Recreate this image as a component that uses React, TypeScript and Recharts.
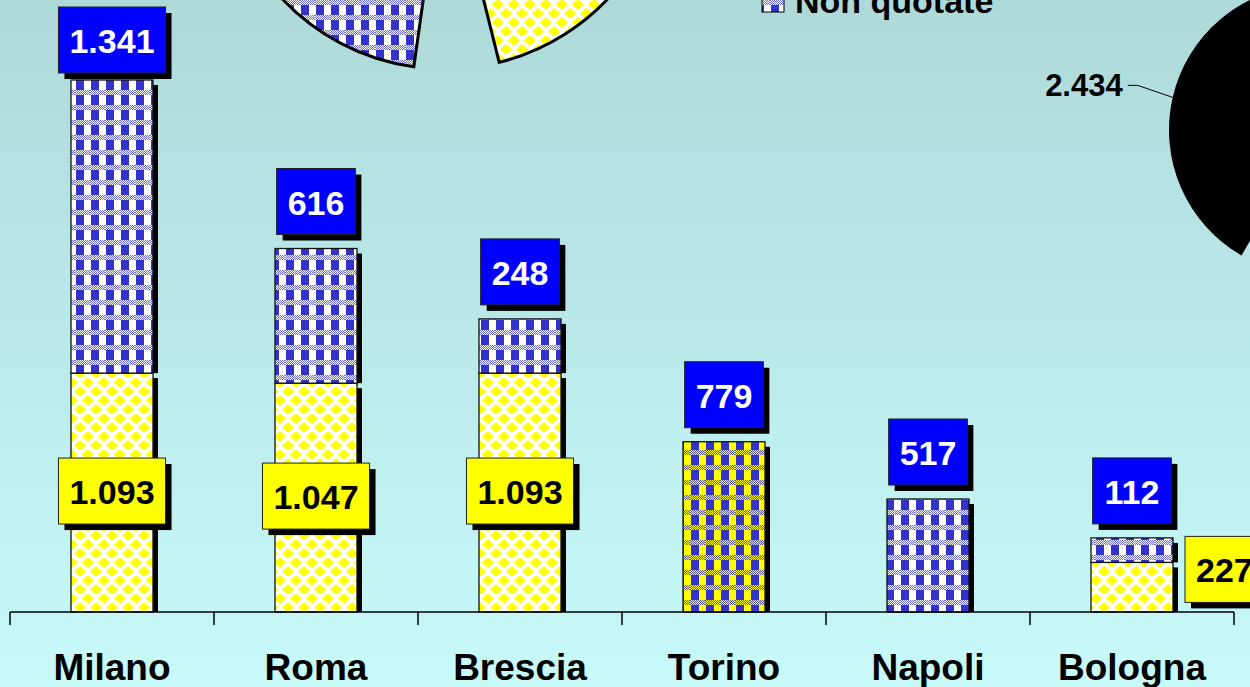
import React from 'react';
import { BarChart, Bar, XAxis, YAxis, Cell, LabelList, PieChart, Pie } from 'recharts';

// bar chart data
const cities = ['Milano', 'Roma', 'Brescia', 'Torino', 'Napoli', 'Bologna'];
const quotate = [1093, 1047, 1093, 0, 0, 227];
const nonQuotate = [1341, 616, 248, 779, 517, 112];
const mixedCity = 'Torino';

// pies (only partly visible in the picture)
const topPieNames = ['Non quotate', 'Quotate'];
const topPieValues = [82, 76];
const sidePieNames = ['Milano'];
const sidePieValues = [2434];

const FONT = "'Liberation Sans', Arial, Helvetica, sans-serif";

const data = cities.map((city, i) => ({ city, quotate: quotate[i], nonQuotate: nonQuotate[i] }));
const topPie = topPieNames.map((name, i) => ({ name, value: topPieValues[i] }));
const sidePie = sidePieNames.map((name, i) => ({ name, value: sidePieValues[i] }));

const fmt = (n: number) =>
  n >= 1000 ? `${Math.floor(n / 1000)}.${String(n % 1000).padStart(3, '0')}` : String(n);

const textW = (s: string, size: number) =>
  [...s].reduce((w, ch) => w + (ch === '.' ? 0.278 : 0.556), 0) * size;

const ValueBox = ({ cx, cy, text, bg, color }: any) => {
  const w = textW(text, 34) + 22;
  const h = 66;
  const x = cx - w / 2;
  const y = cy - h / 2;
  return (
    <g>
      <rect x={x + 6} y={y + 6} width={w} height={h} fill="#000" />
      <rect x={x} y={y} width={w} height={h} fill={bg} stroke="#222" strokeWidth={1} />
      <text x={cx} y={y + 46} textAnchor="middle" fill={color} fontSize={34} fontWeight="bold" fontFamily={FONT}>
        {text}
      </text>
    </g>
  );
};

const ShadowBar = (props: any) => {
  const { x, y, width, height, fill } = props;
  if (!height || height <= 0) return null;
  return (
    <g>
      <rect x={x + width} y={y + 5} width={5} height={Math.max(0, height - 5)} fill="#000" />
      <rect x={x} y={y} width={width} height={height} fill={fill} stroke="#111" strokeWidth={1.3} />
    </g>
  );
};

const blueLabel = (props: any) => {
  const vb = props.viewBox || props;
  const { x, y, width } = vb;
  const v = Number(props.value);
  if (!v) return null;
  const cy = Math.max(40, y - 14 - 33);
  return <ValueBox cx={x + width / 2} cy={cy} text={fmt(v)} bg="#0000ff" color="#fff" />;
};

const yellowLabel = (props: any) => {
  const vb = props.viewBox || props;
  const { x, y, width, height } = vb;
  const v = Number(props.value);
  if (!v) return null;
  const text = fmt(v);
  if (props.index === cities.length - 1) {
    const w = textW(text, 34) + 22;
    return <ValueBox cx={x + width + 12 + w / 2} cy={y + 7} text={text} bg="#ffff00" color="#000" />;
  }
  return <ValueBox cx={x + width / 2} cy={y + height / 2 - 1.5} text={text} bg="#ffff00" color="#000" />;
};

const CityTick = (props: any) => {
  const { x, y, payload, index } = props;
  const half = typeof payload.offset === 'number' && payload.offset > 0 ? payload.offset : 102;
  return (
    <g>
      <line x1={x - half} y1={y} x2={x - half} y2={y + 13} stroke="#000" strokeWidth={1.5} />
      {index === cities.length - 1 && (
        <line x1={x + half} y1={y} x2={x + half} y2={y + 13} stroke="#000" strokeWidth={1.5} />
      )}
      <text x={x} y={y + 68} textAnchor="middle" fill="#000" fontSize={37} fontWeight="bold" fontFamily={FONT}>
        {payload.value}
      </text>
    </g>
  );
};

const sideLabel = (props: any) => {
  const { cx, cy, midAngle, outerRadius, value } = props;
  const rad = (Math.PI / 180) * midAngle;
  const sx = cx + outerRadius * Math.cos(rad);
  const sy = cy - outerRadius * Math.sin(rad);
  const ex = sx - 35;
  const ey = sy - 12;
  return (
    <g>
      <polyline points={`${sx},${sy} ${ex},${ey} ${ex - 10},${ey}`} fill="none" stroke="#000" strokeWidth={1} />
      <text x={ex - 15} y={ey + 11} textAnchor="end" fill="#000" fontSize={31} fontWeight="bold" fontFamily={FONT}>
        {fmt(value)}
      </text>
    </g>
  );
};

const Patterns = () => (
  <defs>
    <pattern id="ditherBlue" width="2" height="2" patternUnits="userSpaceOnUse">
      <rect width="2" height="2" fill="#ffffff" />
      <rect width="1" height="1" fill="#6a6ae0" />
      <rect x="1" y="1" width="1" height="1" fill="#6a6ae0" />
    </pattern>
    <pattern id="ditherOlive" width="2" height="2" patternUnits="userSpaceOnUse">
      <rect width="2" height="2" fill="#ffff00" />
      <rect width="1" height="1" fill="#5a5a8a" />
      <rect x="1" y="1" width="1" height="1" fill="#5a5a8a" />
    </pattern>
    <pattern id="patQuotate" width="16" height="18" patternUnits="userSpaceOnUse">
      <rect width="16" height="18" fill="#ffffff" />
      <polygon points="8,-1 14,4.5 8,10 2,4.5" fill="#ffff00" />
      <polygon points="0,8 6,13.5 0,19 -6,13.5" fill="#ffff00" />
      <polygon points="16,8 22,13.5 16,19 10,13.5" fill="#ffff00" />
    </pattern>
    <pattern id="patNon" width="15" height="15" patternUnits="userSpaceOnUse">
      <rect width="15" height="15" fill="#ffffff" />
      <rect x="0" y="0" width="15" height="5" fill="url(#ditherBlue)" />
      <rect x="1" y="5" width="8" height="10" fill="#3333cc" />
    </pattern>
    <pattern id="patMix" width="15" height="15" patternUnits="userSpaceOnUse">
      <rect width="15" height="15" fill="#ffff00" />
      <rect x="0" y="0" width="15" height="5" fill="url(#ditherOlive)" />
      <rect x="1" y="5" width="8" height="10" fill="#3333cc" />
    </pattern>
  </defs>
);

export default function App() {
  return (
    <div
      style={{
        position: 'absolute',
        left: 0,
        top: 0,
        width: 1250,
        height: 687,
        overflow: 'hidden',
        background: 'linear-gradient(180deg, #aed9d9 0%, #c8fafa 100%)',
      }}
    >
      <div style={{ position: 'absolute', left: 0, top: 0 }}>
        <BarChart width={1250} height={687} data={data} margin={{ top: 0, right: 16, left: 10, bottom: 0 }} barSize={82}>
          <Patterns />
          <YAxis hide domain={[0, 2800]} />
          <XAxis
            dataKey="city"
            height={75}
            tickSize={0}
            tickMargin={0}
            interval={0}
            axisLine={{ stroke: '#000', strokeWidth: 1.5 }}
            tickLine={false}
            tick={<CityTick />}
          />
          <Bar dataKey="quotate" stackId="a" fill="url(#patQuotate)" shape={ShadowBar} isAnimationActive={false}>
            <LabelList dataKey="quotate" content={yellowLabel} />
          </Bar>
          <Bar dataKey="nonQuotate" stackId="a" fill="url(#patNon)" shape={ShadowBar} isAnimationActive={false}>
            {data.map((d) => (
              <Cell key={d.city} fill={d.city === mixedCity ? 'url(#patMix)' : 'url(#patNon)'} />
            ))}
            <LabelList dataKey="nonQuotate" content={blueLabel} />
          </Bar>
        </BarChart>
      </div>

      <div style={{ position: 'absolute', left: 90, top: -360 }}>
        <PieChart width={700} height={500}>
          <Pie
            data={topPie}
            dataKey="value"
            nameKey="name"
            cx={350}
            cy={200}
            outerRadius={224}
            startAngle={180}
            endAngle={360}
            paddingAngle={22}
            stroke="#000"
            strokeWidth={3}
            isAnimationActive={false}
          >
            <Cell fill="url(#patNon)" />
            <Cell fill="url(#patQuotate)" />
          </Pie>
        </PieChart>
      </div>

      <div style={{ position: 'absolute', left: 1000, top: 0 }}>
        <PieChart width={400} height={300}>
          <Pie
            data={sidePie}
            dataKey="value"
            nameKey="name"
            cx={309}
            cy={125}
            outerRadius={145}
            startAngle={94}
            endAngle={240}
            fill="#000"
            stroke="none"
            label={sideLabel}
            labelLine={false}
            isAnimationActive={false}
          />
        </PieChart>
      </div>

      <svg style={{ position: 'absolute', left: 740, top: 0 }} width={300} height={30}>
        <rect x={22} y={-10} width={22} height={22} fill="url(#patNon)" stroke="#000" strokeWidth={1} />
        <text x={55} y={13} fill="#000" fontSize={34} fontWeight="bold" fontFamily={FONT}>
          Non quotate
        </text>
      </svg>
    </div>
  );
}
